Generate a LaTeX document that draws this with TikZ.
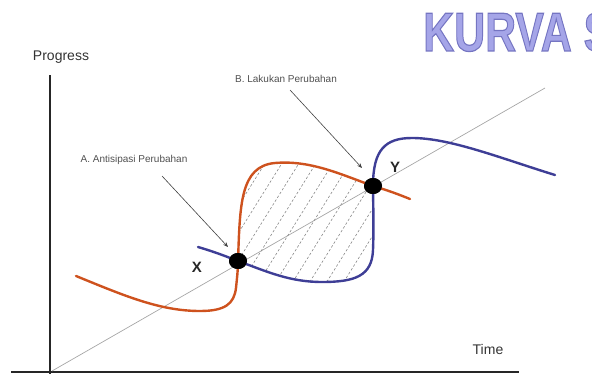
\documentclass[tikz,border=0pt]{standalone}
\usepackage{fontspec}
\setmainfont{Liberation Sans}
\usetikzlibrary{arrows.meta,shapes.geometric}
\definecolor{curveorange}{RGB}{206,82,30}
\definecolor{curveblue}{RGB}{62,62,150}
\definecolor{titlefill}{RGB}{165,165,232}
\definecolor{labelgray}{RGB}{80,80,80}
% outlined glyphs: fill with the current colour, stroke in a darker blue
\newcommand{\outlinedtext}[1]{%
  \special{pdf:code 2 Tr 1.2 w 0.46 0.46 0.76 RG}#1\special{pdf:code 0 Tr}}
\begin{document}
\begin{tikzpicture}[x=1pt,y=-1pt,
  axis/.style={line width=2.2pt,black!85},
  trend/.style={line width=0.7pt,black!35},
  orangecurve/.style={line width=2.4pt,curveorange,line cap=round},
  bluecurve/.style={line width=2.4pt,curveblue,line cap=round},
  hatchline/.style={line width=0.6pt,black!45,dash pattern=on 2.5pt off 2pt},
  point/.style={ellipse,fill=black,minimum width=18pt,minimum height=16pt,inner sep=0pt},
  note/.style={font=\fontsize{10}{12}\selectfont,text=labelgray,inner sep=0pt},
  pointer/.style={line width=0.6pt,black!75,-{Stealth[length=5pt,width=4pt]}},
  axislabel/.style={font=\fontsize{14}{16}\selectfont,text=black!80,inner sep=0pt},
  pointlabel/.style={font=\fontsize{15}{17}\selectfont\bfseries,text=black!85,inner sep=0pt},
  titletext/.style={anchor=base west,inner sep=0pt,font=\fontsize{55}{60}\selectfont\bfseries}]
\useasboundingbox (0,0) rectangle (592,374);

% heading
\node[titletext,text=titlefill] (title) at (423,51) {\outlinedtext{\scalebox{0.78}[1]{KURVA S}}};

% axes and trend line
\coordinate (yend) at (50,75);
\coordinate (ybottom) at (50,374);
\coordinate (xstart) at (11,372);
\coordinate (xend) at (519,372);
\draw[axis] (ybottom) -- (yend);
\draw[axis] (xstart) -- (xend);
\coordinate (trendstart) at (52,371);
\coordinate (trendend) at (545,88);
\draw[trend] (trendstart) -- (trendend);

% shaded area between the two curves
\begin{scope}
  \clip (238,261) .. controls (240,205) and (240,166) .. (275,163)
        .. controls (310,160) and (340,174) .. (373,186)
        .. controls (373,200) and (374,225) .. (373,250)
        .. controls (372,276) and (355,282) .. (322,282)
        .. controls (290,282) and (268,272) .. (238,261) -- cycle;
  \foreach \k in {0,...,13}
    \draw[hatchline] (150+\k*17,320) -- ++(110,-176);
\end{scope}

% crossing points
\node[point] (X) at (238,261) {};
\node[point] (Y) at (373,186) {};

% orange curve
\draw[orangecurve] (76,276) .. controls (125,296) and (160,311) .. (200,311)
  .. controls (225,311) and (234,304) .. (236,288)
  .. controls (237,278) and (238,270) .. (X.center)
  .. controls (240,205) and (240,166) .. (275,163)
  .. controls (310,160) and (340,174) .. (Y.center)
  .. controls (390,191) and (400,195) .. (410,199);

% blue curve
\draw[bluecurve] (198,247) .. controls (215,252) and (225,256) .. (X.center)
  .. controls (268,272) and (290,282) .. (322,282)
  .. controls (355,282) and (372,276) .. (373,250)
  .. controls (374,225) and (373,200) .. (Y.center)
  .. controls (373,150) and (385,138) .. (412,138)
  .. controls (450,138) and (500,158) .. (555,175);

% redraw the points on top of the curves
\node[point] at (X) {};
\node[point] at (Y) {};

% labels
\node[axislabel] (progress) at (61,57) {Progress};
\node[axislabel] (time) at (488,349) {Time};
\node[pointlabel] (xlabel) at (197,267) {X};
\node[pointlabel] (ylabel) at (395,167) {Y};
\node[note] (noteA) at (134,160) {A. Antisipasi Perubahan};
\node[note] (noteB) at (286,79) {B. Lakukan Perubahan};

% pointers
\coordinate (aStart) at (162,176);
\coordinate (aTip) at (228,247);
\coordinate (bStart) at (290,90);
\coordinate (bTip) at (362,168);
\draw[pointer] (aStart) -- (aTip);
\draw[pointer] (bStart) -- (bTip);
\end{tikzpicture}
\end{document}
